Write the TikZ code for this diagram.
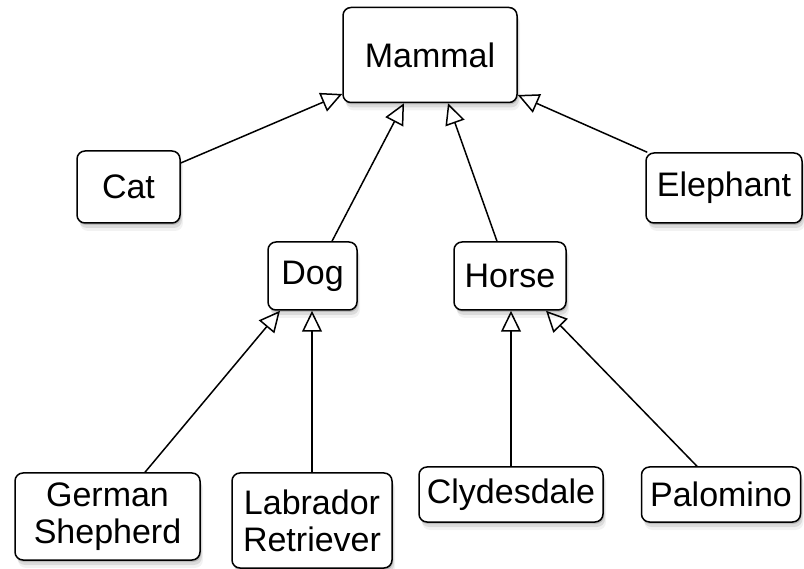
\documentclass[tikz,border=0pt]{standalone}
\usepackage{fontspec}
\setmainfont{Liberation Sans}
\usetikzlibrary{arrows.meta,shadows}

\begin{document}
\begin{tikzpicture}[x=1pt,y=-1pt,
  box/.style={draw,line width=1.5pt,rounded corners=8pt,fill=white,
    drop shadow={shadow xshift=1pt,shadow yshift=-2pt,opacity=0.35},
    drop shadow={shadow xshift=2pt,shadow yshift=-5pt,opacity=0.2},
    drop shadow={shadow xshift=3pt,shadow yshift=-8pt,opacity=0.1},
    align=center,inner sep=0pt,font=\fontsize{34}{37}\selectfont},
  isa/.style={line width=1.5pt,-{Triangle[open,length=21pt,width=20pt]}}]
  \useasboundingbox (0,0) rectangle (804,569);

  % top class
  \node[box,minimum width=174pt,minimum height=95pt] (mammal) at (430,55) {Mammal};

  % second row
  \node[box,minimum width=103pt,minimum height=72pt] (cat) at (128.5,187) {Cat};
  \node[box,minimum width=156pt,minimum height=70pt] (elephant) at (724,188) {Elephant};
  \node[box,minimum width=89pt,minimum height=68pt] (dog) at (312.5,276) {Dog};
  \node[box,minimum width=112pt,minimum height=68pt] (horse) at (510,276) {Horse};

  % breeds
  \node[box,minimum width=185pt,minimum height=87pt] (shepherd) at (107.5,516.5) {German\\Shepherd};
  \node[box,minimum width=160pt,minimum height=95pt] (labrador) at (312,520.5) {Labrador\\Retriever};
  \node[box,minimum width=184pt,minimum height=55pt] (clydesdale) at (511,494.5) {Clydesdale};
  \node[box,minimum width=159pt,minimum height=55pt] (palomino) at (721,494.5) {Palomino};

  % inheritance
  \draw[isa] ([yshift=24pt]cat.east) -- ([yshift=-39pt]mammal.west);
  \draw[isa] ([xshift=19.5pt]dog.north) -- ([xshift=-26pt]mammal.south);
  \draw[isa] ([xshift=-13pt]horse.north) -- ([xshift=18pt]mammal.south);
  \draw[isa] ([xshift=2pt]elephant.north west) -- ([yshift=-40pt]mammal.east);

  \draw[isa] ([xshift=37.5pt]shepherd.north) -- ([xshift=-32.5pt]dog.south);
  \draw[isa] (labrador.north) -- (labrador.north |- dog.south);
  \draw[isa] (clydesdale.north) -- (clydesdale.north |- horse.south);
  \draw[isa] ([xshift=-24pt]palomino.north) -- ([xshift=36pt]horse.south);
\end{tikzpicture}
\end{document}
